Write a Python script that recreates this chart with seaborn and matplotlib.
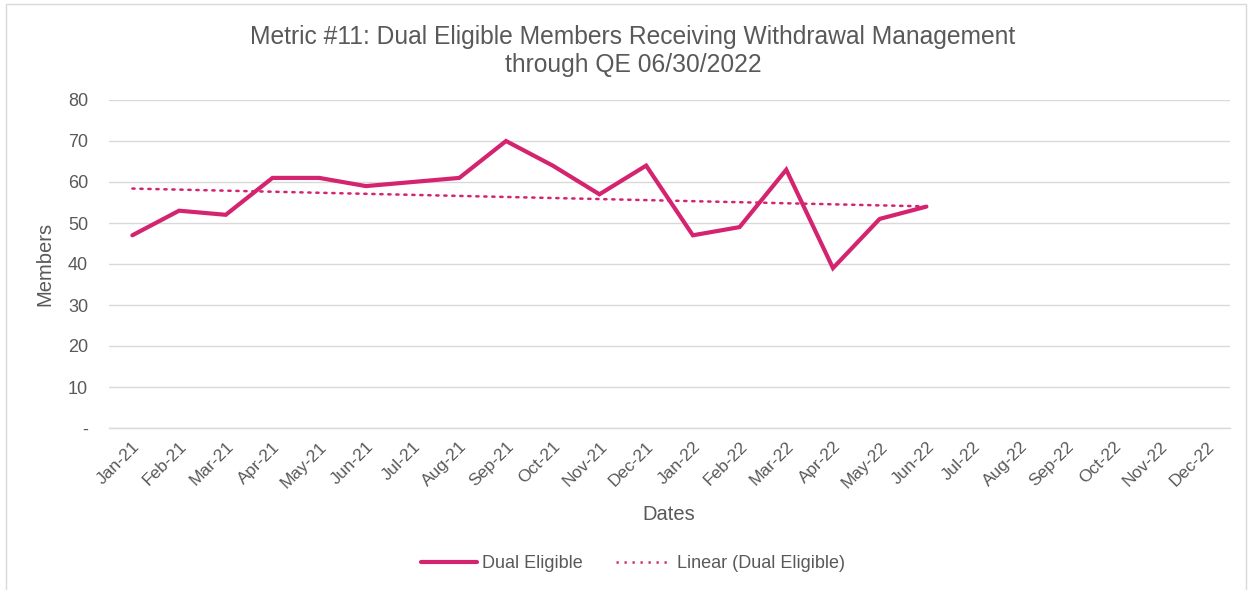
import numpy as np
import pandas as pd
import matplotlib
matplotlib.use("Agg")
import matplotlib.pyplot as plt
from matplotlib.patches import Rectangle
from matplotlib.lines import Line2D
import seaborn as sns

# Monthly axis labels (full two-year window)
months = ["Jan-21", "Feb-21", "Mar-21", "Apr-21", "May-21", "Jun-21",
          "Jul-21", "Aug-21", "Sep-21", "Oct-21", "Nov-21", "Dec-21",
          "Jan-22", "Feb-22", "Mar-22", "Apr-22", "May-22", "Jun-22",
          "Jul-22", "Aug-22", "Sep-22", "Oct-22", "Nov-22", "Dec-22"]

# Dual eligible members receiving withdrawal management, reported months
members = [47, 53, 52, 61, 61, 59, 60, 61, 70, 64, 57, 64,
           47, 49, 63, 39, 51, 54]

y_ticks = [0, 10, 20, 30, 40, 50, 60, 70, 80]
y_tick_labels = ["-", "10", "20", "30", "40", "50", "60", "70", "80"]

PINK = "#D5246F"
GRID = "#D9D9D9"
TEXT = "#595959"

sns.set_theme(style="white")
plt.rcParams["font.family"] = ["Liberation Sans", "DejaVu Sans"]

df = pd.DataFrame({"idx": np.arange(len(members)), "members": members})
slope, intercept = np.polyfit(df["idx"], df["members"], 1)
df["trend"] = intercept + slope * df["idx"]

fig = plt.figure(figsize=(12.51, 5.90), dpi=100)
ax = fig.add_axes([109 / 1251, 1 - 428 / 590, (1230 - 109) / 1251, (428 - 100) / 590])

sns.lineplot(data=df, x="idx", y="members", ax=ax, color=PINK, linewidth=3.0,
             solid_capstyle="round", solid_joinstyle="miter", zorder=3)
sns.lineplot(data=df, x="idx", y="trend", ax=ax, color=PINK, linewidth=1.8,
             linestyle=(0, (0.9, 2.3)), dash_capstyle="round", zorder=2)

ax.set_xlim(-0.5, len(months) - 0.5)
ax.set_ylim(0, 80)
ax.set_yticks(y_ticks)
ax.set_yticklabels(y_tick_labels)
ax.yaxis.grid(True, color=GRID, linewidth=1)
ax.set_axisbelow(True)

ax.set_xticks(np.arange(len(months)))
ax.set_xticklabels(months, rotation=45, ha="right", va="top", rotation_mode="anchor")
ax.set_xticks(np.arange(len(months) + 1) - 0.5, minor=True)
ax.tick_params(axis="x", which="major", length=0, pad=8, labelsize=12.5, colors=TEXT)
ax.tick_params(axis="x", which="minor", length=6, width=1, color=GRID, direction="out")
ax.tick_params(axis="y", length=0, pad=15, labelsize=13, colors=TEXT)

for side in ["top", "right", "left"]:
    ax.spines[side].set_visible(False)
ax.spines["bottom"].set_color(GRID)
ax.spines["bottom"].set_linewidth(1)

ax.set_xlabel("Dates", fontsize=14.5, color=TEXT)
ax.set_ylabel("Members", fontsize=14.5, color=TEXT)
ax.xaxis.set_label_coords((669 - 109) / (1230 - 109), -(514 - 428) / (428 - 100))
ax.yaxis.set_label_coords(-(109 - 45) / (1230 - 109), 0.5)
ax.xaxis.label.set_verticalalignment("center")
ax.yaxis.label.set_verticalalignment("center")

fig.text(633 / 1251, 1 - 51 / 590,
         "Metric #11: Dual Eligible Members Receiving Withdrawal Management\nthrough QE 06/30/2022",
         ha="center", va="center", fontsize=17.7, color=TEXT, linespacing=1.25)

handles = [Line2D([], [], color=PINK, linewidth=3.0, solid_capstyle="round"),
           Line2D([], [], color=PINK, linewidth=1.8, linestyle=(0, (0.9, 2.3)))]
fig.legend(handles, ["Dual Eligible", "Linear (Dual Eligible)"],
           loc="center", bbox_to_anchor=(633 / 1251, 1 - 564 / 590), ncol=2,
           frameon=False, fontsize=13, labelcolor=TEXT, handlelength=3.1,
           handletextpad=0.3, columnspacing=1.8)

fig.patches.append(Rectangle((6 / 1251, -0.01), (1246 - 6) / 1251, 1 - 4 / 590 + 0.01,
                             transform=fig.transFigure, fill=False,
                             edgecolor="#D9D9D9", linewidth=1))

fig.savefig("out.png", dpi=100, facecolor="white")
